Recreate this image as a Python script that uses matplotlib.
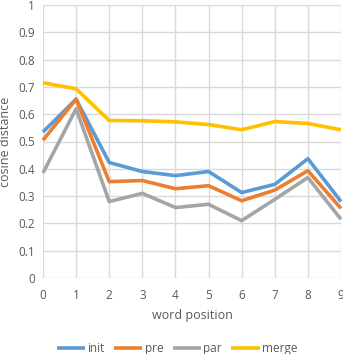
import matplotlib.pyplot as plt

positions = list(range(10))
init = [0.535, 0.655, 0.423, 0.390, 0.375, 0.390, 0.313, 0.343, 0.437, 0.280]
pre = [0.505, 0.655, 0.353, 0.357, 0.327, 0.338, 0.283, 0.322, 0.393, 0.255]
par = [0.385, 0.620, 0.280, 0.310, 0.258, 0.270, 0.210, 0.288, 0.368, 0.215]
merge = [0.715, 0.693, 0.577, 0.576, 0.572, 0.562, 0.543, 0.573, 0.566, 0.543]
yticks = [0, 0.1, 0.2, 0.3, 0.4, 0.5, 0.6, 0.7, 0.8, 0.9, 1]

text_col = "#595959"
plt.rcParams["font.family"] = ["Open Sans", "DejaVu Sans"]

fig = plt.figure(figsize=(3.43, 3.54), dpi=100)
ax = fig.add_axes([43 / 343, 1 - 278 / 354, 298 / 343, 273 / 354])

series = [("init", init, "#5B9BD5"), ("pre", pre, "#ED7D31"),
          ("par", par, "#A5A5A5"), ("merge", merge, "#FFC000")]
for name, vals, col in series:
    ax.plot(positions, vals, color=col, lw=2.6, label=name, solid_capstyle="butt", clip_on=False)

ax.set_xlim(0, 9)
ax.set_ylim(0, 1)
ax.set_xticks(positions)
ax.set_yticks(yticks)
ax.set_yticklabels([f"{t:g}" for t in yticks])
ax.grid(True, color="#D9D9D9", lw=1)
ax.set_axisbelow(True)
for s in ax.spines.values():
    s.set_visible(False)
ax.tick_params(length=0, colors=text_col, labelsize=8.5, pad=8)
ax.tick_params(axis="y", pad=6)
ax.set_xlabel("word position", color=text_col, fontsize=9, labelpad=5)
ax.set_ylabel("cosine distance", color=text_col, fontsize=9, labelpad=4)

ax.legend(loc="lower center", bbox_to_anchor=(0.45, -0.32), ncol=4, frameon=False,
          fontsize=8.5, labelcolor=text_col, handlelength=2.4, columnspacing=0.8,
          handletextpad=0.2)

fig.savefig("out.png", dpi=100)
